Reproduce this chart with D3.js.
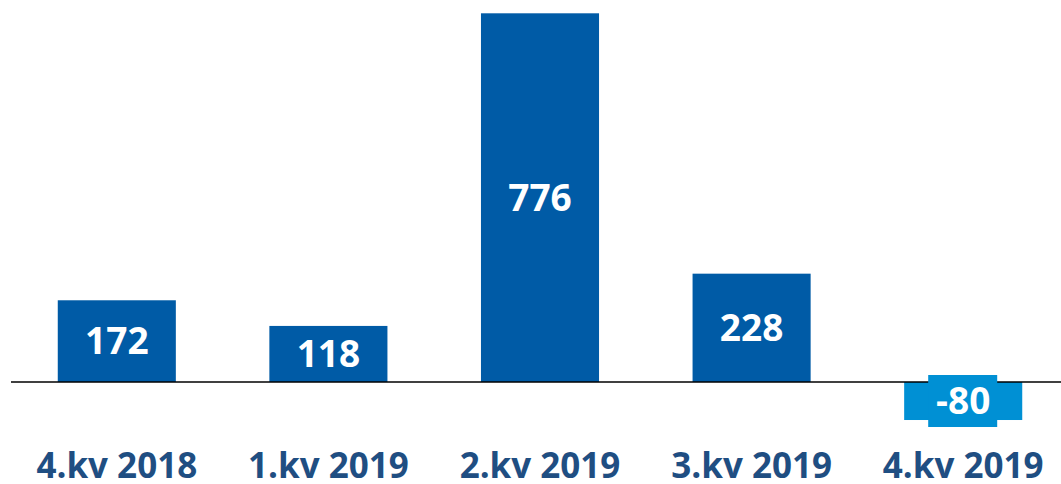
<!DOCTYPE html>
<html>
<head>
<meta charset="utf-8">
<script src="https://cdn.jsdelivr.net/npm/d3@7"></script>
<style>
  body { margin: 0; background: #fff; }
  svg { display: block; }
</style>
</head>
<body>
<script>
// chart data
const categories = ["4.kv 2018", "1.kv 2019", "2.kv 2019", "3.kv 2019", "4.kv 2019"];
const values = [172, 118, 776, 228, -80];

const width = 1061, height = 484;
const posColor = "#005BA6", negColor = "#0090D4", catColor = "#1F4E82";

const svg = d3.select("body")
  .append("svg")
  .attr("width", width)
  .attr("height", height);

let data = categories.map((c, i) => ({ cat: c, val: values[i] }));

// x band scale, runs a bit past the right edge like the original
let x = d3.scaleBand()
  .domain(categories)
  .range([11, 1069])
  .paddingInner(0.442)
  .paddingOuter(0.221);

// y scale
let y = d3.scaleLinear()
  .domain([0, 776])
  .range([382, 13.3]);

// bars
svg.append("g")
  .selectAll("rect")
  .data(data)
  .enter()
  .append("rect")
  .attr("x", d => x(d.cat))
  .attr("width", x.bandwidth())
  .attr("y", d => y(Math.max(0, d.val)))
  .attr("height", d => Math.abs(y(d.val) - y(0)))
  .style("fill", d => d.val < 0 ? negColor : posColor);

// zero line
svg.append("line")
  .attr("x1", 11)
  .attr("x2", width)
  .attr("y1", y(0))
  .attr("y2", y(0))
  .style("stroke", "#000")
  .style("stroke-width", 1.5);

// value labels
let labels = svg.append("g")
  .selectAll("g")
  .data(data)
  .enter()
  .append("g")
  .attr("transform", d => "translate(" + (x(d.cat) + x.bandwidth() / 2) + "," + ((y(d.val) + y(0)) / 2) + ")");

// negative label gets a box in the bar colour over the axis line
labels.filter(d => d.val < 0)
  .append("rect")
  .attr("x", -35)
  .attr("y", -26)
  .attr("width", 69)
  .attr("height", 52)
  .style("fill", negColor);

labels.append("text")
  .attr("text-anchor", "middle")
  .attr("dy", "0.36em")
  .style("font-family", "'Open Sans', sans-serif")
  .style("font-weight", "bold")
  .style("font-size", "37px")
  .style("fill", "#fff")
  .text(d => d.val);

// category labels
svg.append("g")
  .selectAll("text")
  .data(data)
  .enter()
  .append("text")
  .attr("x", d => x(d.cat) + x.bandwidth() / 2)
  .attr("y", 478)
  .attr("text-anchor", "middle")
  .style("font-family", "'Open Sans', sans-serif")
  .style("font-weight", "bold")
  .style("font-size", "35px")
  .style("fill", catColor)
  .text(d => d.cat);
</script>
</body>
</html>
